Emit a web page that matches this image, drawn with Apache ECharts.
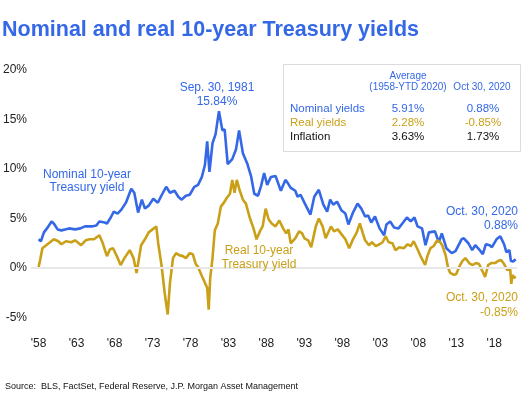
<!DOCTYPE html>
<html>
<head>
<meta charset="utf-8">
<script src="https://cdn.jsdelivr.net/npm/echarts@6/dist/echarts.min.js"></script>
<style>
  html, body { margin: 0; padding: 0; background: #fff; }
  #chart { width: 529px; height: 396px; }
</style>
</head>
<body>
<div id="chart"></div>
<script>
// 数据：[年份, 收益率%]
const nominalYield = [
  [1958.0, 2.9], [1958.3, 2.7], [1958.7, 3.6], [1959.2, 4.1], [1959.7, 4.7], [1960.0, 4.5],
  [1960.5, 3.9], [1961.0, 3.8], [1961.5, 3.9], [1962.0, 4.0], [1962.8, 3.9], [1963.5, 4.0],
  [1964.1, 4.2], [1965.0, 4.2], [1965.6, 4.3], [1966.0, 4.7], [1966.7, 4.6], [1967.0, 4.5],
  [1967.5, 5.1], [1967.9, 5.7], [1968.4, 5.5], [1968.9, 5.9], [1969.5, 6.6], [1970.2, 8.0],
  [1970.6, 7.6], [1971.1, 5.6], [1971.6, 6.9], [1972.0, 6.0], [1972.5, 6.3], [1973.1, 7.0],
  [1973.7, 6.6], [1974.3, 7.5], [1974.8, 8.2], [1975.3, 7.6], [1975.9, 7.8], [1976.4, 7.2],
  [1976.8, 6.9], [1977.4, 7.3], [1977.9, 7.4], [1978.5, 8.2], [1979.0, 8.4], [1979.5, 9.2],
  [1979.9, 10.4], [1980.2, 12.8], [1980.5, 9.7], [1980.9, 12.6], [1981.3, 13.5], [1981.75, 15.84],
  [1982.2, 13.9], [1982.5, 14.0], [1982.9, 10.5], [1983.5, 11.0], [1984.0, 12.0], [1984.4, 13.9],
  [1984.9, 11.6], [1985.5, 10.5], [1986.0, 9.2], [1986.4, 7.5], [1986.9, 7.3], [1987.3, 8.3],
  [1987.7, 9.6], [1988.1, 8.4], [1988.6, 9.2], [1989.2, 9.3], [1989.9, 7.8], [1990.5, 8.9],
  [1990.8, 8.6], [1991.2, 8.1], [1991.8, 7.8], [1992.1, 7.2], [1992.5, 7.4], [1993.0, 6.6],
  [1993.8, 5.4], [1994.3, 7.2], [1994.9, 7.9], [1995.5, 6.4], [1996.0, 5.7], [1996.4, 6.9],
  [1996.8, 6.4], [1997.3, 6.7], [1997.9, 5.8], [1998.4, 5.5], [1998.8, 4.4], [1999.4, 5.6],
  [2000.0, 6.5], [2000.5, 6.0], [2001.0, 5.2], [2001.4, 5.3], [2001.8, 4.6], [2002.3, 5.2],
  [2002.9, 4.0], [2003.5, 3.3], [2003.8, 4.4], [2004.3, 4.7], [2004.8, 4.1], [2005.4, 4.0],
  [2005.9, 4.5], [2006.5, 5.1], [2007.0, 4.7], [2007.5, 5.1], [2007.9, 4.2], [2008.5, 4.0],
  [2008.95, 2.3], [2009.4, 3.6], [2010.2, 3.7], [2010.7, 2.6], [2011.1, 3.5], [2011.7, 2.0],
  [2012.4, 1.5], [2012.9, 1.7], [2013.7, 2.9], [2014.0, 3.0], [2014.6, 2.5], [2015.1, 1.8],
  [2015.5, 2.3], [2016.1, 1.8], [2016.5, 1.4], [2016.9, 2.4], [2017.4, 2.3], [2017.7, 2.1],
  [2018.3, 2.9], [2018.8, 3.2], [2019.3, 2.4], [2019.6, 1.6], [2020.0, 1.8], [2020.2, 0.7],
  [2020.5, 0.65], [2020.83, 0.88]
]

const realYield = [
  [1958.0, 0.1], [1958.2, 0.8], [1958.5, 2.0], [1959.0, 2.3], [1959.5, 2.6], [1960.0, 2.9],
  [1960.6, 2.7], [1961.0, 2.4], [1961.6, 2.7], [1962.3, 2.6], [1962.8, 2.8], [1963.6, 2.3],
  [1964.2, 2.8], [1964.7, 2.9], [1965.3, 2.9], [1966.0, 3.3], [1966.4, 2.6], [1967.0, 1.2],
  [1967.4, 1.9], [1967.8, 2.0], [1968.3, 1.2], [1968.8, 0.3], [1969.3, 1.0], [1970.0, 1.8],
  [1970.5, 1.0], [1970.9, -0.5], [1971.5, 2.3], [1972.0, 2.9], [1972.5, 3.6], [1973.0, 3.9],
  [1973.5, 4.2], [1973.75, 2.5], [1974.2, 0.2], [1974.6, -2.5], [1975.0, -4.7], [1975.3, -1.5],
  [1975.7, 1.0], [1976.1, 1.5], [1976.5, 1.3], [1977.0, 1.2], [1977.4, 1.0], [1977.9, 1.5],
  [1978.3, 1.4], [1978.7, 0.4], [1979.0, 0.1], [1979.5, -0.8], [1979.9, -1.5], [1980.2, -2.0],
  [1980.4, -4.2], [1980.6, -1.0], [1980.9, 1.0], [1981.2, 3.8], [1981.6, 4.5], [1982.0, 6.2],
  [1982.4, 6.6], [1982.8, 7.1], [1983.2, 7.5], [1983.5, 8.9], [1983.8, 7.6], [1984.1, 8.9],
  [1984.5, 7.8], [1984.9, 6.9], [1985.3, 6.5], [1985.8, 5.1], [1986.3, 4.0], [1986.7, 2.9],
  [1987.2, 3.8], [1987.5, 4.2], [1987.9, 6.0], [1988.3, 4.9], [1988.7, 4.5], [1989.2, 4.2],
  [1989.7, 4.8], [1990.2, 4.0], [1990.6, 3.5], [1990.9, 3.9], [1991.2, 2.5], [1991.8, 3.0],
  [1992.3, 3.7], [1992.7, 3.5], [1993.0, 3.0], [1993.5, 2.8], [1993.9, 2.1], [1994.5, 4.2],
  [1994.9, 5.0], [1995.4, 4.2], [1995.8, 3.0], [1996.5, 4.2], [1996.9, 3.7], [1997.4, 3.9],
  [1997.8, 3.5], [1998.4, 2.9], [1998.9, 2.0], [1999.4, 2.9], [1999.9, 3.6], [2000.3, 4.5],
  [2000.7, 3.5], [2001.0, 2.8], [2001.5, 2.3], [2001.9, 2.6], [2002.4, 2.2], [2002.9, 2.4],
  [2003.3, 2.6], [2003.7, 3.2], [2004.1, 2.6], [2004.6, 2.5], [2005.0, 1.8], [2005.5, 2.1],
  [2006.1, 2.0], [2006.6, 2.4], [2007.0, 2.2], [2007.4, 2.7], [2007.9, 1.9], [2008.3, 1.2],
  [2008.9, 0.3], [2009.2, 1.2], [2009.6, 2.0], [2010.0, 2.2], [2010.5, 2.8], [2010.9, 2.6],
  [2011.2, 2.2], [2011.6, 1.3], [2011.9, 0.1], [2012.2, -0.5], [2012.7, -0.7], [2013.0, -0.6],
  [2013.5, 0.3], [2013.8, 0.7], [2014.2, 1.0], [2014.7, 0.5], [2015.1, 0.3], [2015.6, 0.5],
  [2016.0, 0.4], [2016.5, -0.4], [2016.8, -0.9], [2017.2, 0.3], [2017.6, 0.5], [2018.1, 0.5],
  [2018.5, 0.7], [2018.9, 0.8], [2019.3, 0.4], [2019.7, -0.2], [2020.1, -0.1], [2020.25, -1.6],
  [2020.4, -0.7], [2020.6, -1.0], [2020.83, -0.85]
]

const startYear = 1958
const yearTicks = [1958, 1963, 1968, 1973, 1978, 1983, 1988, 1993, 1998, 2003, 2008, 2013, 2018]

// 表格
const tableHeader = ['Average', '(1958-YTD 2020)', 'Oct 30, 2020']
const tableRows = [
  ['Nominal yields', '5.91%', '0.88%'],
  ['Real yields', '2.28%', '-0.85%'],
  ['Inflation', '3.63%', '1.73%']
]

const BLUE = '#3468e6'
const GOLD = '#c9a018'
const FONT = '"Liberation Sans", Arial, sans-serif'

const toX = (d) => [d[0] - startYear, d[1]]

const chart = echarts.init(document.getElementById('chart'))

const rowColors = [BLUE, GOLD, '#111']
const tableGraphics = [
  {
    type: 'rect',
    shape: { x: 283.5, y: 64.5, width: 237, height: 87 },
    style: { fill: '#fff', stroke: '#dcdcdc', lineWidth: 1 }
  },
  { type: 'text', x: 408, y: 76, style: { text: tableHeader[0], fill: BLUE, font: '10px ' + FONT, align: 'center', verticalAlign: 'middle' } },
  { type: 'text', x: 408, y: 87, style: { text: tableHeader[1], fill: BLUE, font: '10px ' + FONT, align: 'center', verticalAlign: 'middle' } },
  { type: 'text', x: 482, y: 87, style: { text: tableHeader[2], fill: BLUE, font: '10px ' + FONT, align: 'center', verticalAlign: 'middle' } }
]
tableRows.forEach((row, i) => {
  const y = 109 + i * 14
  tableGraphics.push(
    { type: 'text', x: 290, y: y, style: { text: row[0], fill: rowColors[i], font: '11.5px ' + FONT, align: 'left', verticalAlign: 'middle' } },
    { type: 'text', x: 408, y: y, style: { text: row[1], fill: rowColors[i], font: '11.5px ' + FONT, align: 'center', verticalAlign: 'middle' } },
    { type: 'text', x: 483, y: y, style: { text: row[2], fill: rowColors[i], font: '11.5px ' + FONT, align: 'center', verticalAlign: 'middle' } }
  )
})

const note = (x, y, text, color, align) => ({
  type: 'text', x: x, y: y, z: 10,
  style: { text: text, fill: color, font: '12px ' + FONT, align: align || 'center', verticalAlign: 'middle' }
})

const option = {
  backgroundColor: '#fff',
  animation: false,
  title: {
    text: 'Nominal and real 10-year Treasury yields',
    left: -3,
    top: 14,
    textStyle: { color: BLUE, fontSize: 21.5, fontWeight: 'bold', fontFamily: FONT }
  },
  grid: { left: 29, right: 12, top: 70, bottom: 78.5 },
  xAxis: {
    type: 'value',
    min: -1,
    max: 63,
    axisLine: { show: false },
    axisTick: { show: false },
    splitLine: { show: false },
    axisLabel: {
      customValues: yearTicks.map((y) => y - startYear),
      margin: 20,
      color: '#222',
      fontSize: 12,
      fontFamily: FONT,
      formatter: (v) => "'" + String(startYear + v).slice(2)
    }
  },
  yAxis: {
    type: 'value',
    min: -5,
    max: 20,
    interval: 5,
    axisLine: { show: false },
    axisTick: { show: false },
    splitLine: { show: false },
    axisLabel: {
      margin: 4,
      color: '#222',
      fontSize: 12,
      fontFamily: FONT,
      formatter: (v) => v + '%'
    }
  },
  series: [
    {
      name: 'Nominal 10-year Treasury yield',
      type: 'line',
      data: nominalYield.map(toX),
      showSymbol: false,
      lineStyle: { color: BLUE, width: 2.6 },
      markLine: {
        silent: true,
        symbol: 'none',
        label: { show: false },
        lineStyle: { color: '#e8e8e8', width: 2, type: 'solid' },
        data: [{ yAxis: 0 }]
      },
      z: 3
    },
    {
      name: 'Real 10-year Treasury yield',
      type: 'line',
      data: realYield.map(toX),
      showSymbol: false,
      lineStyle: { color: GOLD, width: 2.6 },
      z: 4
    }
  ],
  graphic: tableGraphics.concat([
    note(217, 88, 'Sep. 30, 1981', BLUE),
    note(217, 102, '15.84%', BLUE),
    note(87, 175, 'Nominal 10-year', BLUE),
    note(87, 188, 'Treasury yield', BLUE),
    note(259, 251, 'Real 10-year', GOLD),
    note(259, 265, 'Treasury yield', GOLD),
    note(518, 212, 'Oct. 30, 2020', BLUE, 'right'),
    note(518, 226, '0.88%', BLUE, 'right'),
    note(518, 298, 'Oct. 30, 2020', GOLD, 'right'),
    note(518, 313, '-0.85%', GOLD, 'right'),
    {
      type: 'text', x: 5, y: 387,
      style: { text: 'Source:  BLS, FactSet, Federal Reserve, J.P. Morgan Asset Management', fill: '#111', font: '9px ' + FONT, verticalAlign: 'middle' }
    }
  ])
}

option && chart.setOption(option)
</script>
</body>
</html>
